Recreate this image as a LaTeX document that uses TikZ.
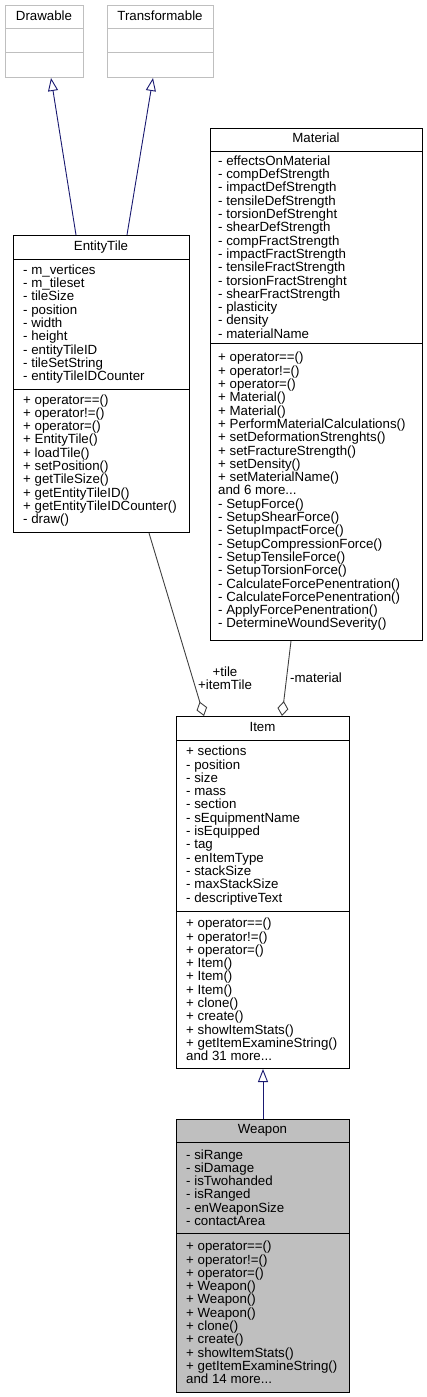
\documentclass[tikz,border=0pt]{standalone}
\usepackage{fontspec}
\setmainfont{Liberation Sans}
\usetikzlibrary{arrows.meta,calc}
\definecolor{edgeblue}{HTML}{191970}
\definecolor{edgegray}{HTML}{404040}
\definecolor{extgray}{HTML}{BFBFBF}
\definecolor{leafgray}{HTML}{BFBFBF}
\newcommand{\umlfont}{\fontsize{13.3}{13.3}\selectfont}
\tikzset{
  classbox/.style={draw=black, line width=1pt, fill=white, inner sep=0pt, anchor=north west},
  extbox/.style={classbox, draw=extgray},
  leafbox/.style={classbox, fill=leafgray},
  divider/.style={line width=1pt},
  classname/.style={font=\umlfont, inner sep=0pt, text height=9.6pt, text depth=2.7pt},
  members/.style={font=\umlfont, align=left, anchor=west, inner sep=0pt},
  inherit/.style={edgeblue, line width=0.9pt, -{Triangle[open, length=13pt, width=10pt]}},
  aggregate/.style={edgegray, line width=0.9pt, -{Diamond[open, length=15pt, width=11pt]}},
  rolelabel/.style={font=\umlfont, inner sep=0pt},
}
\begin{document}
\begin{tikzpicture}[x=1pt, y=-1pt]
  \useasboundingbox (0,0) rectangle (427,1397);

  % external base classes
  \node[extbox, minimum width=78pt, minimum height=72pt] (drawable) at (5,5) {};
  \draw[divider, extgray] (5,29) -- (83,29) (5,53) -- (83,53);
  \node[classname] (drawable-name) at (44,17) {Drawable};

  \node[extbox, minimum width=106pt, minimum height=72pt] (transformable) at (107,5) {};
  \draw[divider, extgray] (107,29) -- (213,29) (107,53) -- (213,53);
  \node[classname] (transformable-name) at (160,17) {Transformable};

  % EntityTile
  \node[classbox, minimum width=176pt, minimum height=297pt] (entitytile) at (13,235) {};
  \draw[divider] (13,259) -- (189,259) (13,389) -- (189,389);
  \node[classname] (entitytile-name) at (101,247) {EntityTile};
  \node[members] (entitytile-attr) at (23,324) {- m\_vertices\\- m\_tileset\\- tileSize\\- position\\- width\\- height\\- entityTileID\\- tileSetString\\- entityTileIDCounter};
  \node[members] (entitytile-ops) at (23,460.5) {+ operator==()\\+ operator!=()\\+ operator=()\\+ EntityTile()\\+ loadTile()\\+ setPosition()\\+ getTileSize()\\+ getEntityTileID()\\+ getEntityTileIDCounter()\\- draw()};

  % Material
  \node[classbox, minimum width=212pt, minimum height=512pt] (material) at (210,128) {};
  \draw[divider] (210,151) -- (422,151) (210,343) -- (422,343);
  \node[classname] (material-name) at (316,139.5) {Material};
  \node[members] (material-attr) at (218,247) {- effectsOnMaterial\\- compDefStrength\\- impactDefStrength\\- tensileDefStrength\\- torsionDefStrenght\\- shearDefStrength\\- compFractStrength\\- impactFractStrength\\- tensileFractStrength\\- torsionFractStrenght\\- shearFractStrength\\- plasticity\\- density\\- materialName};
  \node[members] (material-ops) at (218,491.5) {+ operator==()\\+ operator!=()\\+ operator=()\\+ Material()\\+ Material()\\+ PerformMaterialCalculations()\\+ setDeformationStrenghts()\\+ setFractureStrength()\\+ setDensity()\\+ setMaterialName()\\and 6 more...\\- SetupForce()\\- SetupShearForce()\\- SetupImpactForce()\\- SetupCompressionForce()\\- SetupTensileForce()\\- SetupTorsionForce()\\- CalculateForcePenentration()\\- CalculateForcePenentration()\\- ApplyForcePenentration()\\- DetermineWoundSeverity()};

  % Item
  \node[classbox, minimum width=173pt, minimum height=352pt] (item) at (176,716) {};
  \draw[divider] (176,740) -- (349,740) (176,911) -- (349,911);
  \node[classname] (item-name) at (262.5,728) {Item};
  \node[members] (item-attr) at (186,825.5) {+ sections\\- position\\- size\\- mass\\- section\\- sEquipmentName\\- isEquipped\\- tag\\- enItemType\\- stackSize\\- maxStackSize\\- descriptiveText};
  \node[members] (item-ops) at (186,989.5) {+ operator==()\\+ operator!=()\\+ operator=()\\+ Item()\\+ Item()\\+ Item()\\+ clone()\\+ create()\\+ showItemStats()\\+ getItemExamineString()\\and 31 more...};

  % Weapon
  \node[leafbox, minimum width=173pt, minimum height=273pt] (weapon) at (176,1119) {};
  \draw[divider] (176,1142) -- (349,1142) (176,1233) -- (349,1233);
  \node[classname] (weapon-name) at (262.5,1130.5) {Weapon};
  \node[members] (weapon-attr) at (186,1187.5) {- siRange\\- siDamage\\- isTwohanded\\- isRanged\\- enWeaponSize\\- contactArea};
  \node[members] (weapon-ops) at (186,1312.5) {+ operator==()\\+ operator!=()\\+ operator=()\\+ Weapon()\\+ Weapon()\\+ Weapon()\\+ clone()\\+ create()\\+ showItemStats()\\+ getItemExamineString()\\and 14 more...};

  % inheritance
  \draw[inherit] ($(entitytile.north west)+(63,0)$) -- ($(drawable.south west)+(46,0)$);
  \draw[inherit] ($(entitytile.north west)+(114,0)$) -- ($(transformable.south west)+(46,0)$);
  \draw[inherit] (weapon.north) -- (item.south);

  % aggregation
  \draw[aggregate] ($(entitytile.south west)+(136,0)$) -- ($(item.north west)+(28,0)$);
  \draw[aggregate] ($(material.south west)+(81,0)$) -- ($(item.north west)+(106,0)$);
  \node[rolelabel, align=center] (tile-role) at (225,678) {+tile\\+itemTile};
  \node[rolelabel, anchor=west] (material-role) at (290,678) {-material};
\end{tikzpicture}
\end{document}
